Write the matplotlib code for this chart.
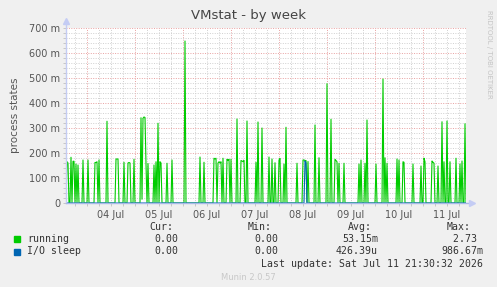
import datetime as dt
import numpy as np
import matplotlib
matplotlib.use("Agg")
import matplotlib.pyplot as plt
import matplotlib.dates as mdates
from matplotlib.patches import Rectangle
from matplotlib.ticker import MultipleLocator, FuncFormatter

# 30 minute samples, counted from the start of the graph
start = dt.datetime(2026, 7, 3, 13, 30)
n_samples = 401

# running spikes (slot number, value in milli)
running_slots = [1, 2, 5, 7, 8, 10, 12, 17, 22, 29, 30, 31, 33, 41, 50, 51, 52, 58,
                 62, 63, 64, 68, 75, 76, 77, 78, 79, 80, 82, 88, 90, 92, 94, 95,
                 101, 106, 119, 134, 138, 148, 149, 150, 152, 153, 154, 155, 157,
                 161, 162, 163, 165, 171, 175, 176, 177, 178, 181, 190, 192, 196,
                 203, 206, 209, 213, 214, 218, 220, 231, 237, 238, 239, 240, 242,
                 249, 253, 261, 265, 269, 270, 271, 273, 278, 293, 295, 299, 301,
                 310, 317, 319, 321, 331, 333, 337, 338, 347, 355, 358, 359, 366,
                 367, 368, 372, 376, 378, 381, 384, 390, 394, 396, 399]
running_vals = [165, 160, 183, 167, 167, 156, 152, 172, 172, 162, 162, 165, 172, 327,
                176, 176, 176, 163, 160, 162, 160, 175, 341, 15, 339, 344, 342, 156,
                158, 152, 165, 319, 165, 160, 159, 172, 648, 184, 163, 179, 176, 179,
                160, 165, 160, 165, 179, 175, 170, 175, 175, 336, 170, 168, 165, 170,
                328, 163, 324, 300, 184, 176, 161, 172, 178, 156, 303, 159, 172, 172,
                170, 170, 166, 312, 181, 477, 335, 175, 170, 165, 159, 159, 156, 172,
                159, 332, 156, 496, 181, 159, 176, 172, 165, 163, 156, 148, 179, 165,
                168, 163, 159, 148, 325, 165, 328, 165, 179, 156, 168, 317]

# I/O sleep spike
io_slots = [239, 240]
io_vals = [168, 160]

legend_names = ["running", "I/O sleep"]
legend_colors = ["#00CC00", "#0066B3"]
cur_vals = ["0.00", "0.00"]
min_vals = ["0.00", "0.00"]
avg_vals = ["53.15m", "426.39u"]
max_vals = ["2.73 ", "986.67m"]

times = [start + dt.timedelta(minutes=30 * i) for i in range(n_samples)]
running = np.zeros(n_samples)
running[running_slots] = np.array(running_vals) / 1000.0
io_sleep = np.zeros(n_samples)
io_sleep[io_slots] = np.array(io_vals) / 1000.0

W, H = 497, 287
fig = plt.figure(figsize=(W / 100, H / 100), dpi=100, facecolor="#F0F0F0")


def fx(x):
    return x / W


def fy(y):
    return 1 - y / H


ax = fig.add_axes([fx(66), fy(203), fx(400), 175 / H])
ax.set_facecolor("white")

ax.plot(times, running, color=legend_colors[0], lw=0.8, zorder=3)
ax.plot(times, io_sleep, color=legend_colors[1], lw=0.8, zorder=4)

ax.set_xlim(times[0], times[-1])
ax.set_ylim(0, 0.7)

# grid like rrdtool: red dotted majors, grey dotted minors
ax.xaxis.set_major_locator(mdates.DayLocator())
ax.xaxis.set_major_formatter(FuncFormatter(lambda v, p: ""))
ax.xaxis.set_minor_locator(mdates.HourLocator(byhour=[0, 6, 12, 18]))


def day_label(v, pos):
    d = mdates.num2date(v)
    return d.strftime("%d %b") if d.hour == 12 else ""


ax.xaxis.set_minor_formatter(FuncFormatter(day_label))
ax.yaxis.set_major_locator(MultipleLocator(0.1))
ax.yaxis.set_minor_locator(MultipleLocator(0.02))
ax.yaxis.set_major_formatter(FuncFormatter(
    lambda v, p: "0" if abs(v) < 1e-9 else "%d m" % round(v * 1000)))

ax.grid(which="major", color="#E8A0A0", lw=0.7, ls=(0, (1, 1.5)))
ax.grid(which="minor", color="#D0D0D0", lw=0.7, ls=(0, (1, 1.5)))
ax.set_axisbelow(True)

ax.tick_params(which="both", length=2, width=0.6, color="#C0C0C0",
               labelsize=7, labelcolor="#555555", pad=2)
ax.tick_params(axis="x", which="minor", pad=3)

for s in ax.spines.values():
    s.set_visible(False)

# axes with arrows
axis_col = "#C4CCF4"
ax.plot([0, 0], [0, 1.03], transform=ax.transAxes, color=axis_col, lw=1,
        clip_on=False, zorder=5)
ax.plot([0], [1.04], marker="^", ms=4.5, color=axis_col, transform=ax.transAxes,
        clip_on=False, zorder=5)
ax.plot([0, 1.01], [0, 0], transform=ax.transAxes, color="#A8B8E8", lw=1,
        clip_on=False, zorder=5)
ax.plot([1.015], [0], marker=">", ms=4.5, color=axis_col, transform=ax.transAxes,
        clip_on=False, zorder=5)

ax.set_ylabel("process states", fontsize=7.5, color="#555555", labelpad=7)

fig.text(0.5, fy(15), "VMstat - by week", ha="center", va="center",
         fontsize=9.5, color="#444444")
fig.text(fx(489), fy(54), "RRDTOOL / TOBI OETIKER", rotation=270,
         ha="center", va="center", fontsize=5, color="#C4C4C4")

mono = "DejaVu Sans Mono"
tc = "#333333"
fig.text(fx(149), fy(227), "Cur:", family=mono, fontsize=7.1, color=tc, va="center")
fig.text(fx(248), fy(227), "Min:", family=mono, fontsize=7.1, color=tc, va="center")
fig.text(fx(348), fy(227), "Avg:", family=mono, fontsize=7.1, color=tc, va="center")
fig.text(fx(447), fy(227), "Max:", family=mono, fontsize=7.1, color=tc, va="center")

for i in range(len(legend_names)):
    y = 239 + 12.5 * i
    fig.patches.append(Rectangle((fx(14), fy(y + 3)), fx(6), 6 / H,
                                 transform=fig.transFigure, color=legend_colors[i]))
    fig.text(fx(27), fy(y), legend_names[i], family=mono, fontsize=7.1,
             color=tc, va="center")
    fig.text(fx(178), fy(y), cur_vals[i], family=mono, fontsize=7.1,
             color=tc, va="center", ha="right")
    fig.text(fx(278), fy(y), min_vals[i], family=mono, fontsize=7.1,
             color=tc, va="center", ha="right")
    fig.text(fx(378), fy(y), avg_vals[i], family=mono, fontsize=7.1,
             color=tc, va="center", ha="right")
    fig.text(fx(483), fy(y), max_vals[i], family=mono, fontsize=7.1,
             color=tc, va="center", ha="right")

fig.text(fx(483), fy(264), "Last update: Sat Jul 11 21:30:32 2026", family=mono,
         fontsize=7.1, color=tc, va="center", ha="right")
fig.text(fx(248), fy(277), "Munin 2.0.57", ha="center", va="center",
         fontsize=6, color="#C8C8C8")

fig.savefig("out.png", dpi=100, facecolor=fig.get_facecolor())
